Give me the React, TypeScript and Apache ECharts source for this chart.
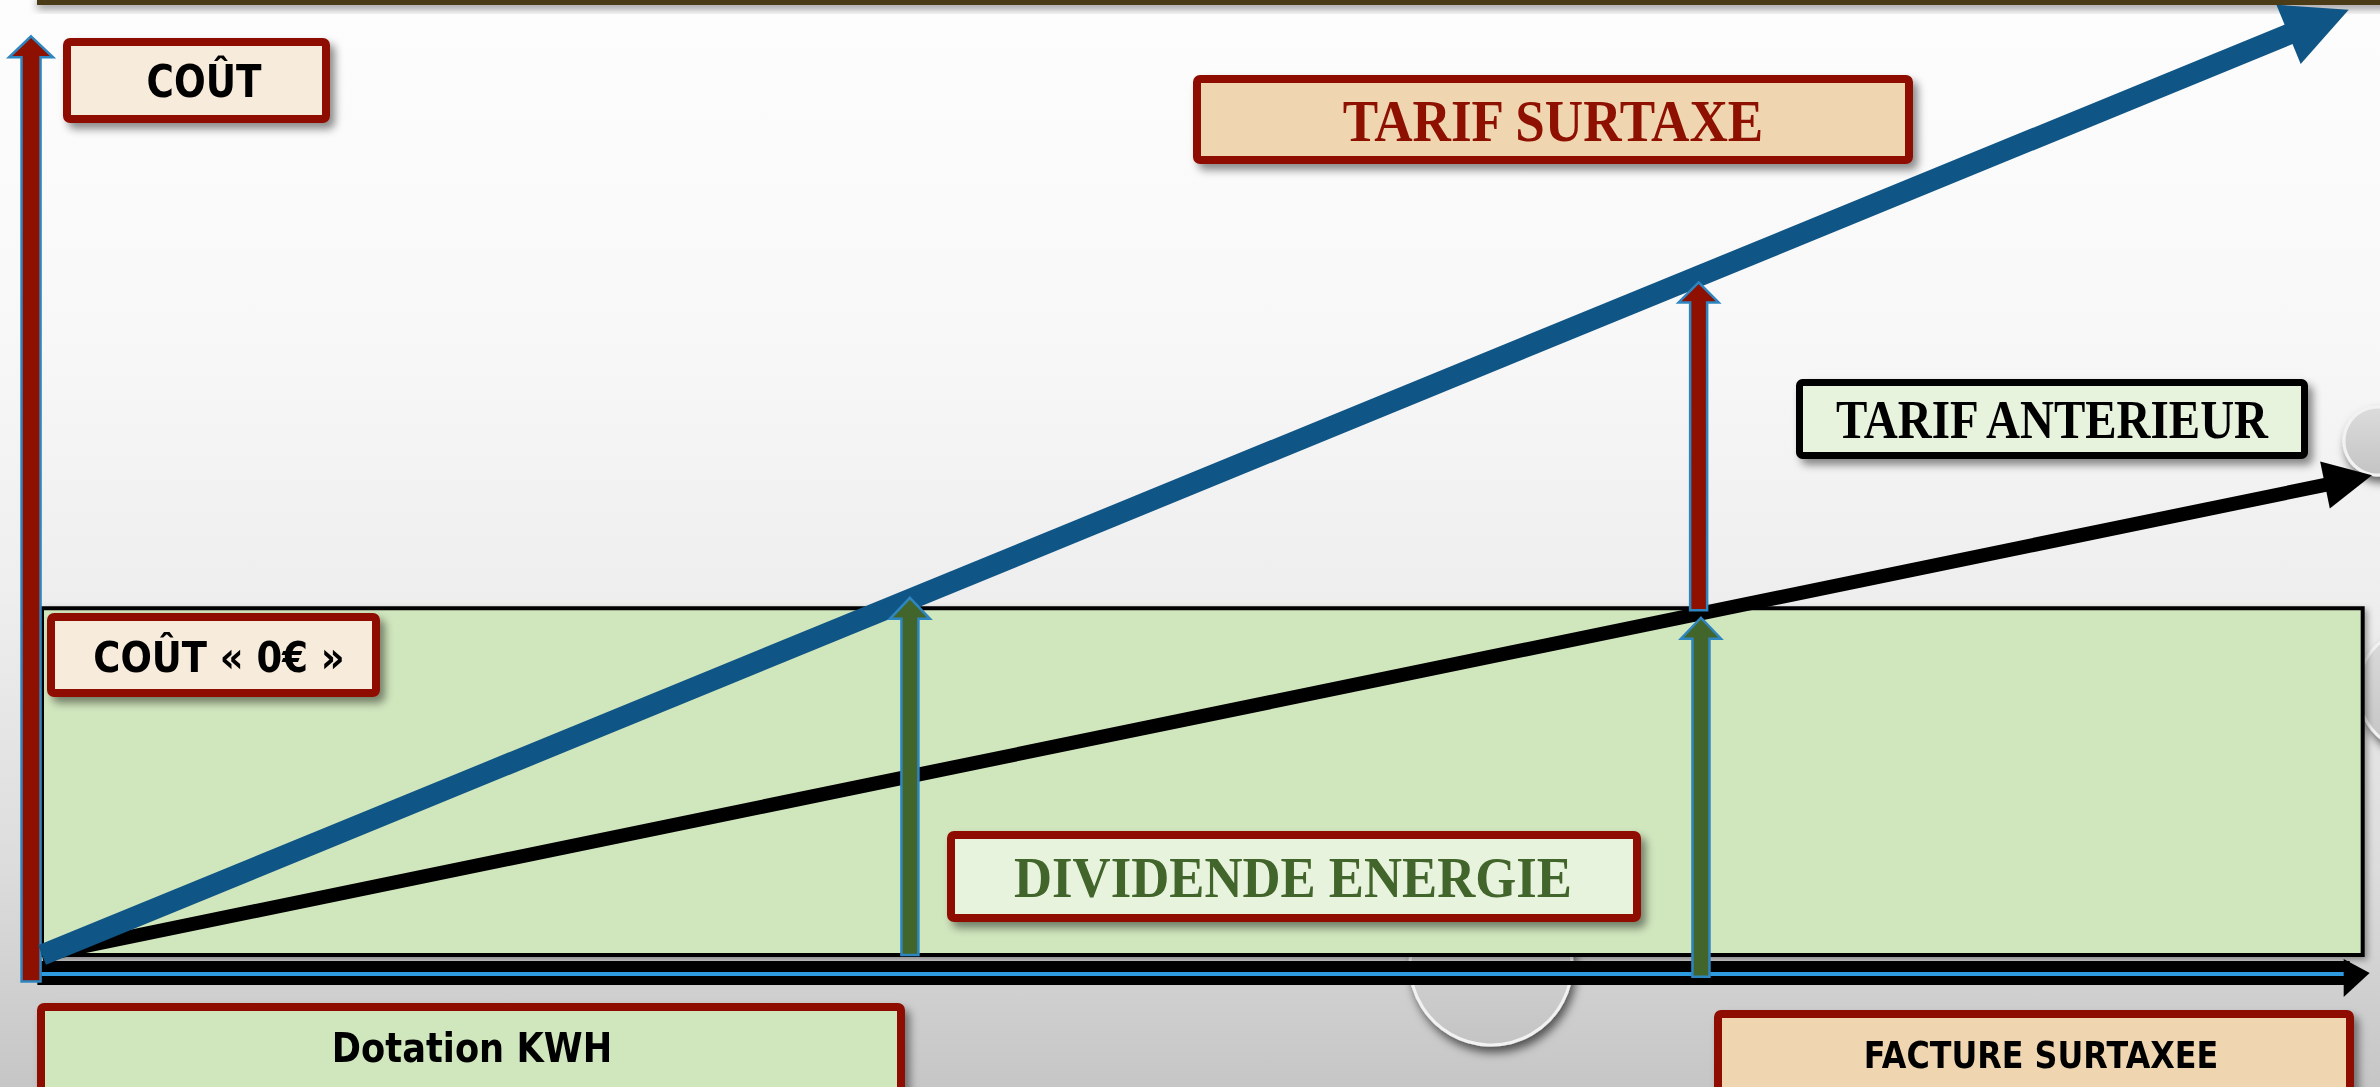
import React, { useEffect, useRef } from "react";
import * as echarts from "echarts";

// ---- Data (units: x = consumption 0..100, y = cost) ----
const X_MIN = 0;
const X_MAX = 100;
const Y_MIN = -10;
const Y_MAX = 100;

// cost zone "COÛT « 0€ »" : [x0, y0, x1, y1]
const costZeroZone = [[0, 0, 99.6, 36.5]];

// tariff lines [x0, y0, x1, y1]
const tarifAnterieur = [0, 0, 100, 50.5];
const tarifSurtaxe = [0, 0, 99, 99.5];

// axis arrows
const axisCout = [-0.47, -2.8, -0.47, 96.7];
const axisDotation = [-0.2, -1.9, 99.9, -1.9];

// vertical arrows [x, yFrom, x, yTo]
const dividendeArrows = [
  [37.25, 0, 37.25, 37.6],
  [71.2, -2.3, 71.2, 35.5],
];
const surtaxeArrows = [[71.1, 36.3, 71.1, 70.8]];

const RED = "#8E1000";
const BLUE_LINE = "#0F5585";
const OUTLINE = "#2E86C1";
const GREEN_DARK = "#41652A";
const GREEN_FILL = "#D0E6BD";
const PALE_GREEN = "#E8F3DD";
const BEIGE = "#F7EBDB";
const PEACH = "#F0D5B1";

const SANS = "'DejaVu Sans', Lato, sans-serif";
const SERIF = "'Liberation Serif', 'DejaVu Serif', serif";

function lineArrowItem(color: string, width: number, headLen: number, headW: number) {
  return (params: any, api: any) => {
    const p0 = api.coord([api.value(0), api.value(1)]);
    const p1 = api.coord([api.value(2), api.value(3)]);
    const dx = p1[0] - p0[0];
    const dy = p1[1] - p0[1];
    const len = Math.hypot(dx, dy);
    const ux = dx / len, uy = dy / len;
    const nx = -uy, ny = ux;
    const bx = p1[0] - ux * headLen, by = p1[1] - uy * headLen;
    return {
      type: "group",
      children: [
        {
          type: "line",
          shape: { x1: p0[0], y1: p0[1], x2: bx + ux * 4, y2: by + uy * 4 },
          style: { stroke: color, lineWidth: width, lineCap: "butt" },
        },
        {
          type: "polygon",
          shape: {
            points: [
              [p1[0], p1[1]],
              [bx + (nx * headW) / 2, by + (ny * headW) / 2],
              [bx - (nx * headW) / 2, by - (ny * headW) / 2],
            ],
          },
          style: { fill: color },
        },
      ],
    };
  };
}

function blockArrowItem(fill: string, shaftW: number, headLen: number, headW: number) {
  return (params: any, api: any) => {
    const p0 = api.coord([api.value(0), api.value(1)]);
    const p1 = api.coord([api.value(2), api.value(3)]);
    const x = p1[0];
    const top = p1[1];
    const bottom = p0[1];
    const base = top + headLen;
    const points = [
      [x, top],
      [x + headW / 2, base],
      [x + shaftW / 2, base],
      [x + shaftW / 2, bottom],
      [x - shaftW / 2, bottom],
      [x - shaftW / 2, base],
      [x - headW / 2, base],
    ];
    return {
      type: "polygon",
      shape: { points },
      style: { fill, stroke: OUTLINE, lineWidth: 2.5, lineJoin: "miter" },
    };
  };
}

function xAxisArrowItem(params: any, api: any) {
  const p0 = api.coord([api.value(0), api.value(1)]);
  const p1 = api.coord([api.value(2), api.value(3)]);
  const headLen = 26;
  const bx = p1[0] - headLen;
  return {
    type: "group",
    children: [
      { type: "rect", shape: { x: p0[0], y: p0[1] - 12, width: bx - p0[0] + 6, height: 24 }, style: { fill: "#000" } },
      { type: "rect", shape: { x: p0[0] + 4, y: p0[1] - 1, width: bx - p0[0], height: 4 }, style: { fill: "#2E9BE0" } },
      {
        type: "polygon",
        shape: { points: [[p1[0], p1[1]], [bx, p1[1] - 14], [bx, p1[1] + 24]] },
        style: { fill: "#000" },
      },
    ],
  };
}

function zoneItem(params: any, api: any) {
  const a = api.coord([api.value(0), api.value(1)]);
  const b = api.coord([api.value(2), api.value(3)]);
  return {
    type: "rect",
    shape: { x: a[0], y: b[1], width: b[0] - a[0], height: a[1] - b[1] },
    style: {
      fill: GREEN_FILL,
      stroke: "#000",
      lineWidth: 4,
      shadowBlur: 6,
      shadowOffsetX: 3,
      shadowOffsetY: 3,
      shadowColor: "rgba(0,0,0,0.35)",
    },
  };
}

const SHADOW = { shadowBlur: 8, shadowOffsetX: 5, shadowOffsetY: 6, shadowColor: "rgba(0,0,0,0.45)" };

function box(
  x0: number, y0: number, x1: number, y1: number,
  sw: number, stroke: string, fill: string,
  text: string, cx: number, cy: number, font: { size: number; family: string; color: string; scaleX: number }
) {
  return [
    {
      type: "rect",
      z: 20,
      shape: { x: x0 + sw / 2, y: y0 + sw / 2, width: x1 - x0 - sw, height: y1 - y0 - sw, r: 3 },
      style: { fill, stroke, lineWidth: sw, ...SHADOW },
    },
    {
      type: "text",
      z: 21,
      x: cx,
      y: cy,
      scaleX: font.scaleX,
      style: {
        text,
        fill: font.color,
        fontSize: font.size,
        fontFamily: font.family,
        fontWeight: "bold",
        align: "center",
        verticalAlign: "middle",
      },
    },
  ];
}

function circleDeco(cx: number, cy: number, r: number) {
  return {
    type: "circle",
    z: 1,
    shape: { cx, cy, r },
    style: {
      fill: {
        type: "linear", x: 0, y: 0, x2: 0, y2: 1,
        colorStops: [
          { offset: 0, color: "#dcdcdc" },
          { offset: 1, color: "#c4c4c4" },
        ],
      },
      stroke: "#f2f2f2",
      lineWidth: 3,
      shadowBlur: 10,
      shadowOffsetX: 3,
      shadowOffsetY: 6,
      shadowColor: "rgba(0,0,0,0.6)",
    },
  };
}

const option: any = {
  animation: false,
  grid: { left: 42, right: 8, top: 5, bottom: 37 },
  xAxis: { type: "value", min: X_MIN, max: X_MAX, show: false },
  yAxis: { type: "value", min: Y_MIN, max: Y_MAX, show: false },
  graphic: [
    {
      type: "rect",
      z: 0,
      shape: { x: 0, y: 0, width: 2380, height: 1087 },
      style: {
        fill: {
          type: "linear", x: 0, y: 0, x2: 0, y2: 1,
          colorStops: [
            { offset: 0, color: "#fdfdfd" },
            { offset: 0.3, color: "#f8f8f8" },
            { offset: 0.55, color: "#eeeeee" },
            { offset: 0.8, color: "#dcdcdc" },
            { offset: 1, color: "#c6c6c6" },
          ],
        },
      },
      silent: true,
    },
    {
      type: "rect",
      z: 1,
      shape: { x: 37, y: -4, width: 2360, height: 9 },
      style: { fill: "#4B3A17", shadowBlur: 8, shadowOffsetY: 4, shadowColor: "rgba(0,0,0,0.4)" },
    },
    circleDeco(1491, 964, 81),
    circleDeco(2378, 441, 34),
    circleDeco(2420, 690, 62),
    ...box(63, 38, 330, 123, 8, RED, BEIGE, "COÛT", 204, 82, { size: 45, family: SANS, color: "#000", scaleX: 0.83 }),
    ...box(47, 613, 380, 697, 8, RED, BEIGE, "COÛT « 0€ »", 219, 657, { size: 42, family: SANS, color: "#000", scaleX: 0.88 }),
    ...box(1193, 75, 1913, 164, 8, RED, PEACH, "TARIF SURTAXE", 1553, 121, { size: 59, family: SERIF, color: RED, scaleX: 0.9 }),
    ...box(1796, 379, 2308, 459, 7, "#000", PALE_GREEN, "TARIF ANTERIEUR", 2052, 420, { size: 54, family: SERIF, color: "#000", scaleX: 0.87 }),
    ...box(947, 831, 1641, 922, 8, RED, PALE_GREEN, "DIVIDENDE ENERGIE", 1293, 878, { size: 57, family: SERIF, color: GREEN_DARK, scaleX: 0.925 }),
    ...box(37, 1003, 905, 1097, 8, RED, GREEN_FILL, "Dotation KWH", 472, 1048, { size: 41, family: SANS, color: "#000", scaleX: 0.86 }),
    ...box(1714, 1010, 2354, 1100, 8, RED, PEACH, "FACTURE SURTAXEE", 2041, 1055, { size: 37, family: SANS, color: "#000", scaleX: 0.86 }),
  ],
  series: [
    {
      name: "COÛT « 0€ »",
      type: "custom",
      z: 2,
      renderItem: zoneItem,
      encode: { x: [0, 2], y: [1, 3] },
      data: costZeroZone,
    },
    {
      name: "Dotation KWH",
      type: "custom",
      z: 3,
      renderItem: xAxisArrowItem,
      encode: { x: [0, 2], y: [1, 3] },
      data: [axisDotation],
    },
    {
      name: "COÛT",
      type: "custom",
      z: 3,
      renderItem: blockArrowItem(RED, 19, 21, 44),
      encode: { x: [0, 2], y: [1, 3] },
      data: [axisCout],
    },
    {
      name: "TARIF ANTERIEUR",
      type: "custom",
      z: 4,
      renderItem: lineArrowItem("#000", 14, 48, 48),
      encode: { x: [0, 2], y: [1, 3] },
      data: [tarifAnterieur],
    },
    {
      name: "TARIF SURTAXE",
      type: "custom",
      z: 5,
      renderItem: lineArrowItem(BLUE_LINE, 21, 65, 64),
      encode: { x: [0, 2], y: [1, 3] },
      data: [tarifSurtaxe],
    },
    {
      name: "DIVIDENDE ENERGIE",
      type: "custom",
      z: 6,
      renderItem: blockArrowItem(GREEN_DARK, 17, 21, 40),
      encode: { x: [0, 2], y: [1, 3] },
      data: dividendeArrows,
    },
    {
      name: "SURTAXE",
      type: "custom",
      z: 6,
      renderItem: blockArrowItem(RED, 17, 20, 40),
      encode: { x: [0, 2], y: [1, 3] },
      data: surtaxeArrows,
    },
  ],
};

export default function App() {
  const ref = useRef<HTMLDivElement>(null);
  useEffect(() => {
    if (!ref.current) return;
    const chart = echarts.init(ref.current, null, { renderer: "svg" });
    chart.setOption(option);
    return () => chart.dispose();
  }, []);
  return (
    <div
      ref={ref}
      style={{ position: "fixed", left: 0, top: 0, width: 2380, height: 1087, overflow: "hidden" }}
    />
  );
}
